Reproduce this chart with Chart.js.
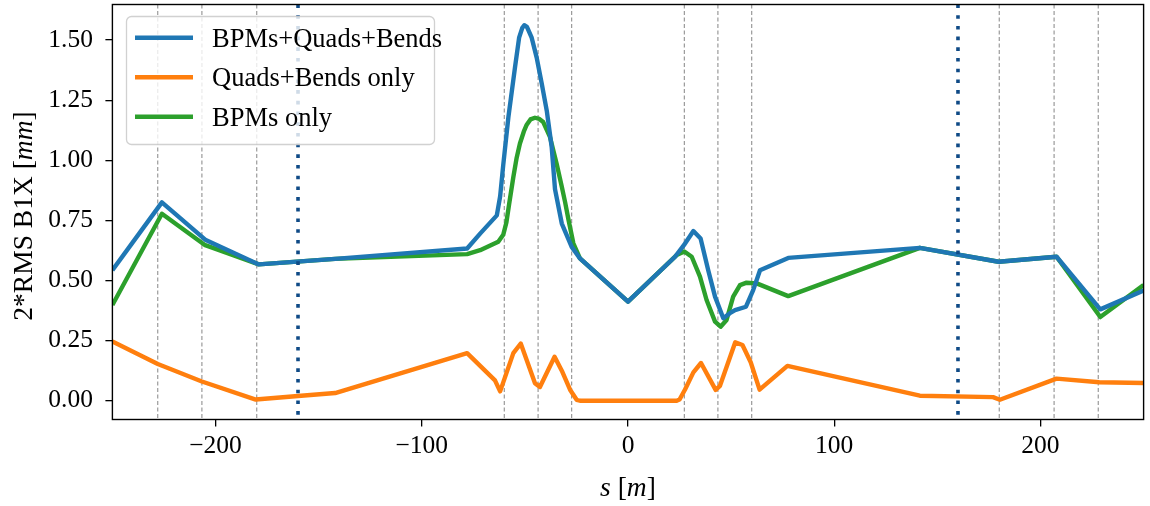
<!DOCTYPE html>
<html>
<head>
<meta charset="utf-8">
<script src="https://cdn.jsdelivr.net/npm/chart.js@4.4.0/dist/chart.umd.min.js"></script>
<style>
  html, body { margin: 0; padding: 0; background: #fff; }
  #wrap { width: 1150px; height: 506px; position: relative; }
</style>
</head>
<body>
<div id="wrap"><canvas id="chart"></canvas></div>
<script>
// ── Data ───────────────────────────────────────────────
const seriesLabels = ['BPMs+Quads+Bends', 'Quads+Bends only', 'BPMs only'];
const seriesColors = ['#1f77b4', '#ff7f0e', '#2ca02c'];

const blueS = [-250, -226, -205, -179, -142, -78, -71.7, -63.6, -62, -60.5, -58, -54.8, -52.8, -51.3, -50.3,
  -49, -46.7, -44.3, -41.8, -39.4, -37, -35.4, -32.1, -27.3, -23.3, 0, 22.8, 27.1, 31.7, 35.2, 38.9,
  42.2, 46.2, 49.4, 51.9, 57.2, 60.7, 64, 77.7, 141.5, 179.7, 207.8, 229, 250];
const blueY = [0.543, 0.825, 0.67, 0.567, 0.59, 0.633, 0.695, 0.771, 0.85, 0.98, 1.179, 1.386, 1.51, 1.55, 1.562,
  1.555, 1.51, 1.428, 1.318, 1.207, 1.055, 0.88, 0.737, 0.64, 0.592, 0.412, 0.599, 0.647, 0.706, 0.675, 0.543,
  0.433, 0.343, 0.364, 0.377, 0.391, 0.46, 0.543, 0.594, 0.636, 0.578, 0.599, 0.38, 0.458];

const orangeS = [-250, -228, -206.6, -180.5, -160, -142, -78, -64.5, -62, -55.6, -52, -45.1, -42.7,
  -35.6, -32.1, -28.1, -24.9, -23.3, 23.6, 25, 27.6, 31.7, 35.4, 42.5, 44.6, 52, 55.5, 59.5, 63.8,
  77.3, 141.5, 177, 180.3, 207.8, 228.5, 250];
const orangeY = [0.246, 0.153, 0.08, 0.005, 0.02, 0.032, 0.198, 0.085, 0.039, 0.198, 0.238, 0.073, 0.057,
  0.183, 0.125, 0.046, 0.004, 0.0, 0.0, 0.005, 0.046, 0.118, 0.157, 0.045, 0.062, 0.243, 0.232, 0.16, 0.046,
  0.145, 0.021, 0.015, 0.004, 0.092, 0.077, 0.074];

const greenS = [-250, -226, -205, -179, -142, -78, -71.7, -62.9, -60.5, -59, -57.6, -55.6, -54, -52.4, -50.5,
  -49.1, -47.3, -45.1, -43, -41.1, -37.8, -34.6, -32.1, -30.5, -28.9, -26.5, -23.3, 0, 23.6, 27.3, 30.9,
  34.9, 38.1, 42.2, 44.9, 47.8, 51, 54.3, 57.5, 62.4, 77.7, 141.5, 179.7, 207.8, 229, 250];
const greenY = [0.398, 0.778, 0.647, 0.567, 0.59, 0.61, 0.626, 0.661, 0.69, 0.74, 0.82, 0.93, 1.01, 1.07, 1.12,
  1.148, 1.17, 1.177, 1.172, 1.159, 1.096, 0.986, 0.89, 0.826, 0.755, 0.655, 0.592, 0.412, 0.606, 0.621, 0.599,
  0.516, 0.419, 0.329, 0.308, 0.336, 0.433, 0.481, 0.491, 0.488, 0.435, 0.636, 0.578, 0.599, 0.348, 0.481];

// element positions (dashed grey) and IP markers (dotted blue)
const elemS = [-228, -206.6, -180, -60, -43.6, -27.3, 27.3, 43.6, 60, 180, 206.6, 228];
const ipS   = [-160, 160];

const xTicks = [-200, -100, 0, 100, 200];
const yTicks = [0, 0.25, 0.5, 0.75, 1.0, 1.25, 1.5];

// ── Style ──────────────────────────────────────────────
const SERIF = '"Liberation Serif", "Times New Roman", serif';
const TICK_FONT = { family: SERIF, size: 25.5 };
const LW = 4.4;

const pts = (xs, ys) => xs.map((x, i) => ({ x, y: ys[i] }));

const _lineDs = (i, xs, ys) => ({
  label: seriesLabels[i],
  data: pts(xs, ys),
  borderColor: seriesColors[i],
  backgroundColor: seriesColors[i],
  borderWidth: LW,
  borderJoinStyle: 'round',
  pointRadius: 0,
  tension: 0,
  fill: false,
});

// ── Plugins ────────────────────────────────────────────
function _vline(chart, s) {
  const { ctx, chartArea: a, scales: { x } } = chart;
  const px = x.getPixelForValue(s);
  ctx.beginPath();
  ctx.moveTo(px, a.top);
  ctx.lineTo(px, a.bottom);
  ctx.stroke();
}

const vlinesPlugin = {
  id: 'vlines',
  beforeDatasetsDraw(chart) {
    const { ctx } = chart;
    ctx.save();
    ctx.strokeStyle = 'rgba(120,120,120,0.9)';
    ctx.lineWidth = 1;
    ctx.setLineDash([4, 2.5]);
    elemS.forEach(s => _vline(chart, s));
    ctx.restore();
  },
  afterDatasetsDraw(chart) {
    const { ctx } = chart;
    ctx.save();
    ctx.strokeStyle = '#0f4a86';
    ctx.lineWidth = 3.6;
    ctx.setLineDash([3.6, 7.1]);
    ipS.forEach(s => _vline(chart, s));
    ctx.restore();
  },
};

const framePlugin = {
  id: 'frame',
  afterDatasetsDraw(chart) {
    const { ctx, chartArea: a } = chart;
    ctx.save();
    ctx.strokeStyle = '#000';
    ctx.lineWidth = 1.4;
    ctx.strokeRect(a.left, a.top, a.right - a.left, a.bottom - a.top);
    ctx.restore();
  },
};

const legendPlugin = {
  id: 'innerLegend',
  afterDraw(chart) {
    const { ctx } = chart;
    ctx.save();
    ctx.beginPath();
    ctx.roundRect(126.5, 16.5, 308, 128, 5);
    ctx.fillStyle = 'rgba(255,255,255,0.8)';
    ctx.fill();
    ctx.strokeStyle = 'rgba(204,204,204,0.9)';
    ctx.lineWidth = 1.3;
    ctx.stroke();
    ctx.font = `26.5px ${SERIF}`;
    ctx.textBaseline = 'alphabetic';
    chart.data.datasets.forEach((ds, i) => {
      const y = 37.7 + i * 39.5;
      ctx.beginPath();
      ctx.moveTo(135, y);
      ctx.lineTo(193, y);
      ctx.strokeStyle = ds.borderColor;
      ctx.lineWidth = LW;
      ctx.stroke();
      ctx.fillStyle = '#000';
      ctx.fillText(ds.label, 212, y + 9);
    });
    ctx.restore();
  },
};

// draws a title made of [text, italic] pieces, centred at 0
function _richText(ctx, parts, size) {
  const fonts = parts.map(([, it]) => `${it ? 'italic ' : ''}${size}px ${SERIF}`);
  const widths = parts.map(([t], i) => { ctx.font = fonts[i]; return ctx.measureText(t).width; });
  let x = -widths.reduce((a, b) => a + b, 0) / 2;
  parts.forEach(([t], i) => {
    ctx.font = fonts[i];
    ctx.fillText(t, x, 0);
    x += widths[i];
  });
}

const titlesPlugin = {
  id: 'axisTitles',
  afterDraw(chart) {
    const { ctx, chartArea: a } = chart;
    ctx.save();
    ctx.fillStyle = '#000';
    ctx.textBaseline = 'alphabetic';
    ctx.textAlign = 'left';
    ctx.save();
    ctx.translate((a.left + a.right) / 2, 496);
    _richText(ctx, [['s', true], [' [', false], ['m', true], [']', false]], 27.5);
    ctx.restore();
    ctx.save();
    ctx.translate(32, (a.top + a.bottom) / 2 + 4);
    ctx.rotate(-Math.PI / 2);
    _richText(ctx, [['2*RMS B1X [', false], ['mm', true], [']', false]], 27.5);
    ctx.restore();
    ctx.restore();
  },
};

// ── Chart ──────────────────────────────────────────────
const _fmtX = v => (v < 0 ? '\u2212' + Math.abs(v) : String(v));

new Chart(document.getElementById('chart'), {
  type: 'line',
  data: {
    datasets: [
      _lineDs(0, blueS, blueY),
      _lineDs(1, orangeS, orangeY),
      _lineDs(2, greenS, greenY),
    ],
  },
  options: {
    animation: false,
    responsive: true,
    maintainAspectRatio: false,
    events: [],
    layout: { padding: { top: 4.5, right: 6.4, left: 0, bottom: 0 } },
    scales: {
      x: {
        type: 'linear',
        min: -250,
        max: 250,
        afterBuildTicks: s => { s.ticks = xTicks.map(v => ({ value: v })); },
        afterFit: s => { s.height = 86.5; s.paddingLeft = 0; s.paddingRight = 0; },
        ticks: { font: TICK_FONT, color: '#000', padding: 4, maxRotation: 0, callback: _fmtX },
        grid: { drawOnChartArea: false, drawTicks: true, tickLength: 7, color: '#000', lineWidth: 1.3 },
        border: { display: false },
      },
      y: {
        type: 'linear',
        min: -0.078,
        max: 1.648,
        afterBuildTicks: s => { s.ticks = yTicks.map(v => ({ value: v })); },
        afterFit: s => { s.width = 112.4; s.paddingTop = 0; s.paddingBottom = 0; },
        ticks: { font: TICK_FONT, color: '#000', padding: 12.5, callback: v => v.toFixed(2) },
        grid: { drawOnChartArea: false, drawTicks: true, tickLength: 7, color: '#000', lineWidth: 1.3 },
        border: { display: false },
      },
    },
    plugins: {
      legend: { display: false },
      tooltip: { enabled: false },
    },
  },
  plugins: [vlinesPlugin, framePlugin, legendPlugin, titlesPlugin],
});
</script>
</body>
</html>
